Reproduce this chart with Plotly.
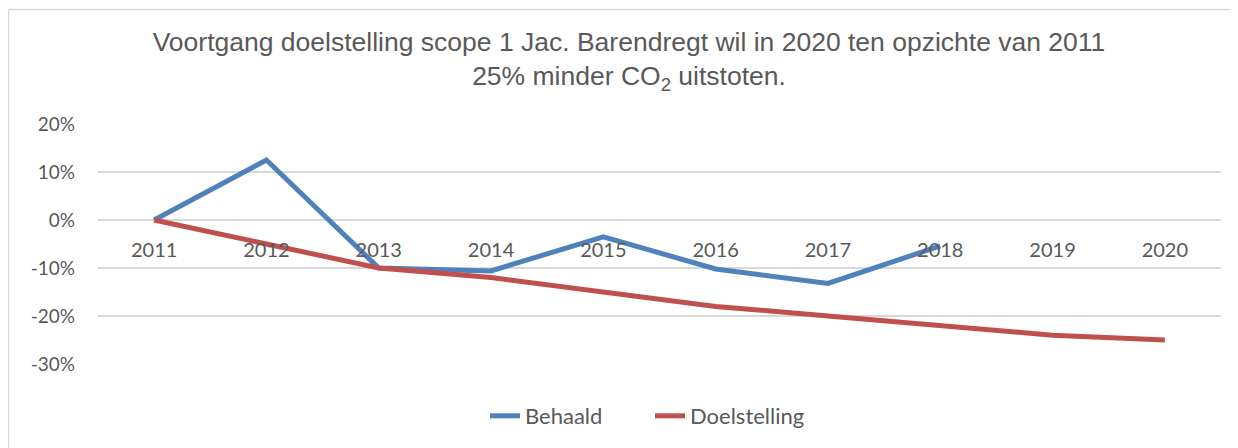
import plotly.graph_objects as go

years = ["2011", "2012", "2013", "2014", "2015", "2016", "2017", "2018", "2019", "2020"]
behaald = [0.0, 0.125, -0.10, -0.106, -0.035, -0.102, -0.132, -0.054, None, None]
doelstelling = [0.0, -0.05, -0.10, -0.12, -0.15, -0.18, -0.20, -0.22, -0.24, -0.25]
y_tick_vals = [0.2, 0.1, 0.0, -0.1, -0.2, -0.3]
y_tick_text = ["20%", "10%", "0%", "-10%", "-20%", "-30%"]

# page body has an 8px margin, so the figure is placed at (8, 8) in the window
OFF = 8
W, H = 1230, 440
L, R, T, B = 90, 17, 116, 84
pw, ph = W - L - R, H - T - B

def px(x):  # reference window pixel -> paper x
    return (x - OFF - L) / pw

def py(y):  # reference window pixel -> paper y
    return (H - B - (y - OFF)) / ph

grey = "#595959"
fig = go.Figure()
fig.add_trace(go.Scatter(x=years, y=behaald, name="Behaald", mode="lines",
                         line=dict(color="#4f81bd", width=5), connectgaps=False))
fig.add_trace(go.Scatter(x=years, y=doelstelling, name="Doelstelling", mode="lines",
                         line=dict(color="#c0504d", width=5)))

fig.update_layout(
    width=W, height=H,
    margin=dict(l=L, r=R, t=T, b=B, autoexpand=False),
    paper_bgcolor="white", plot_bgcolor="white",
    title=dict(
        text="Voortgang doelstelling scope 1 Jac. Barendregt wil in 2020 ten opzichte van 2011<br>25% minder CO<sub>2</sub> uitstoten.",
        font=dict(family="Liberation Sans, Arial", size=26.5, color=grey),
        x=px(629), xanchor="center", xref="paper",
        y=1 - (51 - OFF) / H, yanchor="middle", yref="container",
    ),
    xaxis=dict(type="category", range=[-0.5, 9.5], showgrid=False, zeroline=False,
               showline=False, anchor="free", position=py(220),
               tickfont=dict(family="Lato", size=20, color=grey),
               ticks="", ticklabelstandoff=16),
    yaxis=dict(range=[-0.3, 0.2], tickvals=y_tick_vals, ticktext=y_tick_text,
               showgrid=True, gridcolor="#d9d9d9", gridwidth=1.5,
               zeroline=False, showline=False,
               tickfont=dict(family="Lato", size=19, color=grey),
               ticklabelstandoff=22),
    legend=dict(orientation="h", x=px(650), xanchor="center", y=py(416), yanchor="middle",
                font=dict(family="Lato", size=22, color=grey),
                entrywidth=120, traceorder="normal"),
    showlegend=True,
    shapes=[
        dict(type="line", xref="paper", yref="paper", x0=px(8.5), x1=px(8.5), y0=py(9.5), y1=py(470),
             line=dict(color="#d9d9d9", width=1.5)),
        dict(type="line", xref="paper", yref="paper", x0=px(8.5), x1=px(1260), y0=py(9.5), y1=py(9.5),
             line=dict(color="#d9d9d9", width=1.5)),
    ],
)
fig.write_html("out.html")
